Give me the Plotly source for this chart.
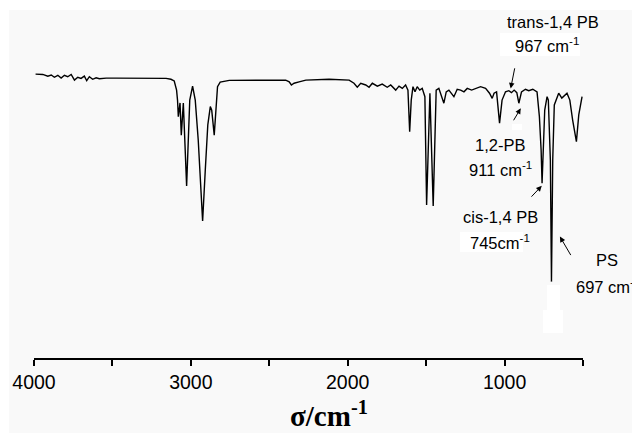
import plotly.graph_objects as go

# Wavenumber (cm^-1) and transmittance (%)
wavenumber = [
    3990, 3944, 3912, 3890, 3870, 3848, 3827, 3806, 3785, 3763, 3742, 3721, 3700,
    3679, 3664, 3647, 3626, 3604, 3583, 3540, 3477, 3371, 3265, 3158, 3127, 3106,
    3091, 3085, 3080, 3069, 3061, 3048, 3027, 3013, 3007, 2989, 2972, 2953, 2925,
    2908, 2892, 2876, 2867, 2851, 2838, 2830, 2813, 2755, 2395, 2373, 2359, 2342,
    2310, 2267, 2119, 1991, 1960, 1939, 1917, 1885, 1864, 1843, 1811, 1780, 1748,
    1726, 1694, 1673, 1652, 1631, 1616, 1605, 1595, 1584, 1571, 1557, 1541, 1525,
    1508, 1497, 1476, 1455, 1436, 1419, 1387, 1372, 1355, 1323, 1302, 1280, 1259,
    1238, 1210, 1185, 1153, 1121, 1096, 1079, 1067, 1051, 1032, 1016, 994, 973,
    956, 939, 922, 909, 892, 867, 846, 820, 793, 778, 767, 761, 753, 744, 729,
    721, 708, 701, 693, 683, 655, 635, 602, 584, 566, 542, 527, 506,
]
transmittance = [
    99.6, 99.5, 98.9, 99.3, 98.5, 99.2, 98.2, 99.2, 98.7, 99.5, 97.5, 98.5, 98.1,
    98.9, 97.3, 98.7, 97.8, 98.3, 98.0, 98.2, 98.2, 98.1, 98.2, 98.1, 97.8, 97.2,
    94.0, 90.5, 84.7, 89.5, 78.2, 89.5, 60.4, 87.0, 90.5, 95.4, 90.5, 76.5, 48.1,
    66.0, 81.8, 88.2, 87.0, 78.2, 90.5, 95.2, 96.8, 97.4, 97.5, 96.9, 95.8, 96.4,
    96.9, 97.5, 97.8, 97.5, 96.4, 95.0, 96.4, 95.8, 95.0, 96.4, 95.4, 96.1, 95.0,
    95.8, 94.0, 95.4, 94.6, 95.8, 94.0, 79.4, 90.5, 95.2, 93.4, 95.2, 94.0, 94.6,
    91.7, 53.7, 92.9, 53.3, 94.0, 94.6, 89.4, 93.4, 94.0, 91.7, 94.3, 94.0, 93.4,
    94.6, 94.0, 94.6, 95.2, 94.6, 92.9, 91.1, 92.9, 93.4, 82.4, 90.5, 93.4, 93.8,
    93.1, 94.0, 93.1, 89.4, 93.4, 94.3, 93.8, 94.3, 93.4, 84.7, 73.0, 61.3, 73.0,
    87.0, 91.7, 90.5, 69.5, 26.8, 69.5, 88.8, 92.9, 91.2, 92.9, 90.5, 83.5, 75.9,
    85.3, 91.7,
]

tick_values = [4000, 3500, 3000, 2500, 2000, 1500, 1000, 500]
tick_labels = ["4000", "", "3000", "", "2000", "", "1000", ""]
x_title = "<b>σ/cm<sup>-1</sup></b>"

# Peak labels: text, x position (fraction of plot width), y (transmittance)
label_texts = ["trans-1,4 PB", "967 cm<sup>-1</sup>", "1,2-PB", "911 cm<sup>-1</sup>",
               "cis-1,4 PB", "745cm<sup>-1</sup>", "PS", "697 cm<sup>-1</sup>"]
label_xfrac = [0.945, 0.934, 0.849, 0.850, 0.849, 0.849, 1.043, 1.045]
label_y = [117.9, 109.8, 74.7, 66.3, 49.5, 40.7, 34.4, 25.3]

# Arrows: head position (data) and tail offset (px)
arrow_x = [961, 897, 763, 647]
arrow_y = [94.6, 87.6, 60.4, 42.6]
arrow_ax = [4.3, -8, -11.7, 11.7]
arrow_ay = [-21.6, 13.4, 12.3, 20]

# plot area in screenshot pixels (used only to place background patches)
PX0, PX1, PY0, PY1 = 34, 583, 20, 358


def px_to_paper(x, y):
    return (x - PX0) / (PX1 - PX0), (PY1 - y) / (PY1 - PY0)


def rect(x0, y0, x1, y1, color):
    a, b = px_to_paper(x0, y1)
    c, d = px_to_paper(x1, y0)
    return dict(type="rect", xref="paper", yref="paper", x0=a, y0=b, x1=c, y1=d,
                fillcolor=color, line=dict(width=0), layer="below")


shapes = [
    rect(9, 10, 660, 450, "#f9f9f9"),
    rect(500, 33, 580, 56, "white"),
    rect(460, 232, 523, 252, "white"),
    rect(547, 285, 560, 310, "white"),
    rect(543, 310, 563, 333, "white"),
    rect(512, 124, 522, 130, "white"),
]

fig = go.Figure()
fig.add_trace(go.Scatter(
    x=wavenumber, y=transmittance, mode="lines",
    line=dict(color="black", width=1.4), showlegend=False, hoverinfo="skip",
))

annotations = []
for t, x, y in zip(label_texts, label_xfrac, label_y):
    annotations.append(dict(
        x=x, y=y, xref="paper", yref="y", text=t, showarrow=False,
        font=dict(family="Liberation Sans, Arial", size=16.5, color="black"),
        xanchor="center", yanchor="middle",
    ))
for x, y, ax, ay in zip(arrow_x, arrow_y, arrow_ax, arrow_ay):
    annotations.append(dict(
        x=x, y=y, xref="x", yref="y", text="", showarrow=True,
        ax=ax, ay=ay, arrowhead=2, arrowsize=1.1, arrowwidth=1, arrowcolor="black",
    ))
# axis title (placed as annotation to match its off-centre position)
annotations.append(dict(
    x=0.537, y=-0.165, xref="paper", yref="paper", text=x_title, showarrow=False,
    font=dict(family="Liberation Serif, Times New Roman", size=29, color="black"),
    xanchor="center", yanchor="middle",
))

# The page body adds an 8px offset, so margins are shifted by -8px (left/top)
fig.update_layout(
    width=640, height=433,
    margin=dict(l=26, r=65, t=12, b=83),
    paper_bgcolor="white", plot_bgcolor="rgba(0,0,0,0)",
    annotations=annotations, shapes=shapes,
    xaxis=dict(
        range=[4000, 500], tickvals=tick_values, ticktext=tick_labels,
        showline=True, linecolor="black", linewidth=1.5,
        ticks="outside", ticklen=6, tickwidth=1.5, tickcolor="black",
        showgrid=False, zeroline=False, automargin=False,
        tickfont=dict(family="Liberation Sans, Arial", size=19.5, color="black"),
    ),
    yaxis=dict(range=[0, 118.6], visible=False, automargin=False),
)

fig.write_html("out.html")
